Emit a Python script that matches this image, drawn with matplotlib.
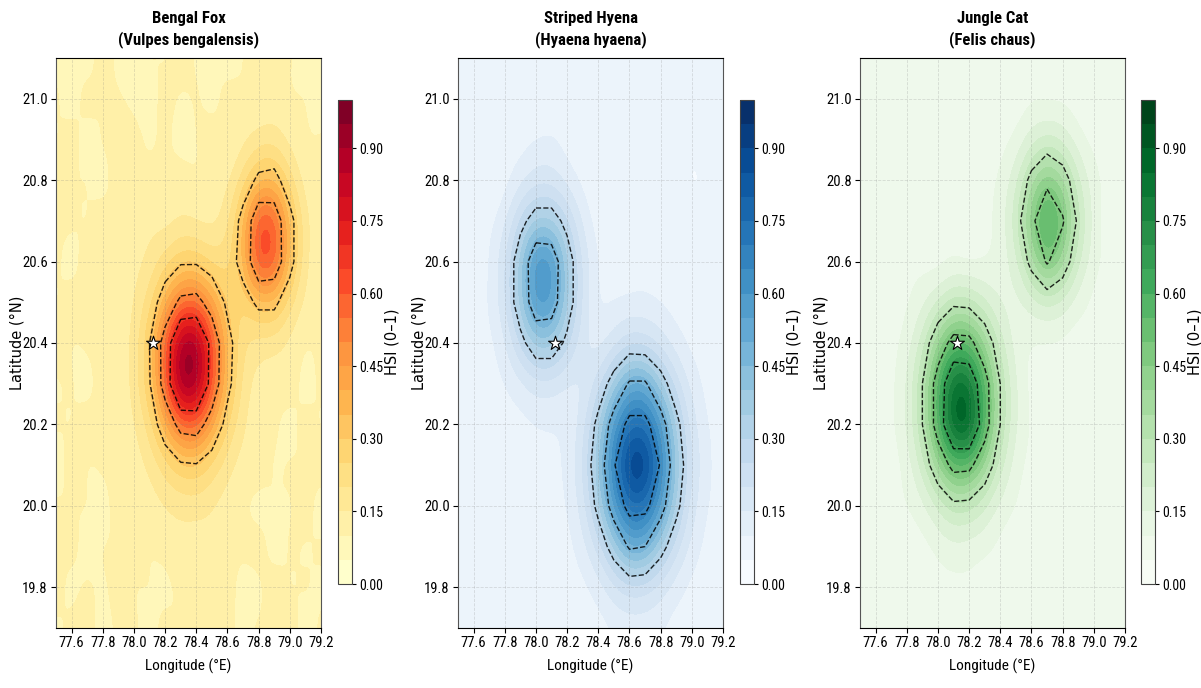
import matplotlib
matplotlib.use('Agg')
import matplotlib.pyplot as plt
from matplotlib.colors import BoundaryNorm
import numpy as np

plt.rcParams['font.family'] = ['Roboto Condensed', 'Liberation Sans', 'DejaVu Sans']

lons = [77.5, 77.6, 77.7, 77.8, 77.9, 78.0, 78.1, 78.2, 78.3, 78.4, 78.5, 78.6, 78.7, 78.8, 78.9, 79.0, 79.1, 79.2]
lats = [21.1, 21.0, 20.9, 20.8, 20.7, 20.6, 20.5, 20.4, 20.3, 20.2, 20.1, 20.0, 19.9, 19.8, 19.7]

# HSI x 100, one row per latitude
fox = [
    [9, 11, 8, 12, 9, 8, 11, 9, 12, 9, 11, 8, 10, 12, 9, 11, 8, 10],
    [11, 8, 12, 9, 11, 9, 8, 12, 9, 11, 8, 12, 10, 9, 12, 9, 11, 8],
    [9, 12, 8, 11, 10, 12, 9, 11, 8, 10, 12, 9, 13, 17, 17, 13, 9, 11],
    [12, 9, 11, 8, 12, 9, 11, 10, 12, 9, 11, 13, 22, 33, 35, 22, 12, 9],
    [10, 11, 9, 12, 9, 11, 14, 12, 15, 14, 12, 18, 35, 64, 62, 35, 16, 11],
    [11, 8, 12, 9, 11, 13, 16, 22, 28, 28, 23, 22, 36, 66, 63, 35, 16, 9],
    [9, 12, 9, 11, 10, 15, 22, 38, 54, 56, 42, 27, 24, 33, 33, 22, 13, 11],
    [12, 9, 11, 10, 12, 16, 30, 58, 92, 94, 64, 35, 20, 17, 17, 13, 9, 11],
    [9, 11, 8, 12, 10, 17, 29, 58, 96, 94, 63, 34, 18, 12, 10, 12, 8, 11],
    [11, 9, 12, 9, 11, 14, 22, 38, 56, 58, 42, 25, 16, 10, 11, 8, 12, 9],
    [8, 12, 9, 11, 10, 12, 16, 22, 28, 29, 23, 17, 12, 12, 9, 11, 9, 12],
    [11, 9, 11, 8, 12, 10, 12, 15, 16, 17, 15, 12, 10, 8, 11, 9, 12, 8],
    [9, 12, 8, 11, 9, 12, 9, 11, 13, 11, 13, 10, 11, 12, 8, 11, 9, 11],
    [12, 8, 11, 9, 12, 9, 11, 8, 11, 9, 11, 12, 8, 9, 12, 9, 11, 9],
    [9, 11, 12, 8, 11, 11, 8, 12, 9, 12, 9, 11, 9, 11, 9, 12, 8, 11],
]
hyena = [
    [5, 8, 4, 7, 5, 8, 6, 4, 7, 5, 8, 4, 6, 5, 8, 4, 7, 5],
    [7, 4, 8, 5, 7, 4, 5, 8, 4, 7, 5, 8, 5, 7, 4, 8, 5, 7],
    [4, 7, 5, 8, 7, 10, 11, 7, 5, 8, 4, 7, 5, 8, 6, 5, 7, 4],
    [7, 5, 4, 7, 13, 17, 17, 13, 8, 5, 7, 4, 8, 5, 7, 4, 5, 7],
    [5, 8, 8, 14, 26, 36, 36, 26, 14, 7, 5, 7, 5, 7, 4, 7, 5, 8],
    [7, 4, 10, 19, 38, 62, 60, 37, 19, 10, 5, 5, 7, 4, 7, 5, 8, 4],
    [5, 7, 10, 19, 38, 60, 58, 37, 19, 8, 10, 11, 11, 10, 7, 7, 5, 7],
    [4, 8, 8, 14, 26, 38, 38, 27, 16, 12, 17, 22, 21, 17, 12, 8, 7, 5],
    [7, 5, 7, 10, 13, 17, 17, 14, 13, 22, 36, 52, 52, 36, 22, 13, 8, 5],
    [5, 7, 4, 7, 8, 10, 10, 10, 17, 34, 58, 75, 75, 58, 34, 17, 10, 7],
    [7, 4, 7, 5, 5, 7, 8, 11, 20, 39, 68, 94, 94, 68, 39, 20, 11, 7],
    [4, 7, 5, 7, 4, 7, 7, 10, 17, 34, 58, 76, 75, 57, 34, 17, 10, 7],
    [7, 5, 8, 4, 7, 5, 5, 8, 13, 22, 36, 52, 50, 35, 22, 13, 8, 5],
    [5, 8, 4, 7, 5, 8, 5, 7, 8, 12, 18, 22, 21, 17, 12, 8, 7, 5],
    [7, 4, 7, 5, 8, 4, 7, 5, 7, 7, 10, 11, 11, 10, 7, 7, 5, 7],
]
cat = [
    [6, 9, 4, 8, 6, 9, 4, 8, 6, 9, 4, 8, 6, 4, 9, 6, 8, 4],
    [8, 4, 9, 6, 4, 8, 6, 9, 8, 4, 6, 9, 8, 9, 6, 4, 8, 6],
    [4, 8, 6, 9, 8, 4, 9, 6, 4, 8, 11, 17, 21, 18, 12, 8, 6, 8],
    [8, 4, 9, 6, 4, 8, 6, 9, 8, 11, 18, 34, 46, 37, 21, 12, 8, 6],
    [6, 9, 4, 8, 6, 9, 8, 4, 8, 12, 23, 46, 64, 52, 27, 13, 6, 8],
    [4, 8, 6, 9, 8, 6, 9, 8, 9, 11, 18, 34, 52, 38, 21, 12, 8, 4],
    [8, 4, 6, 9, 13, 20, 27, 26, 20, 14, 12, 17, 20, 18, 12, 8, 6, 9],
    [6, 9, 8, 12, 22, 40, 56, 55, 39, 22, 12, 9, 9, 8, 6, 9, 8, 6],
    [4, 8, 8, 15, 30, 58, 86, 84, 57, 30, 15, 8, 6, 9, 8, 4, 6, 8],
    [8, 6, 9, 15, 30, 58, 92, 94, 58, 30, 15, 9, 8, 6, 4, 8, 9, 6],
    [6, 9, 6, 12, 22, 39, 55, 54, 39, 22, 12, 8, 9, 4, 8, 6, 6, 9],
    [9, 4, 8, 10, 13, 20, 27, 26, 20, 13, 10, 6, 4, 8, 6, 9, 8, 4],
    [6, 8, 6, 6, 8, 11, 13, 12, 11, 8, 6, 9, 8, 6, 9, 4, 6, 8],
    [8, 4, 9, 6, 4, 8, 8, 9, 6, 9, 4, 8, 6, 9, 6, 8, 4, 6],
    [4, 8, 6, 9, 8, 6, 9, 4, 8, 6, 8, 4, 9, 6, 8, 6, 9, 4],
]

titles = ['Bengal Fox\n(Vulpes bengalensis)', 'Striped Hyena\n(Hyaena hyaena)', 'Jungle Cat\n(Felis chaus)']
grids = [fox, hyena, cat]
cmaps = ['YlOrRd', 'Blues', 'Greens']
fill_levels = [i / 20 for i in range(21)]
line_levels = [0.3, 0.5, 0.7]
cbar_ticks = [0.0, 0.15, 0.30, 0.45, 0.60, 0.75, 0.90]
xticks = [77.6, 77.8, 78.0, 78.2, 78.4, 78.6, 78.8, 79.0, 79.2]
yticks = [19.8, 20.0, 20.2, 20.4, 20.6, 20.8, 21.0]
star_lon = 78.12
star_lat = 20.4

W, H = 1201, 688
fig = plt.figure(figsize=(W / 100, H / 100), dpi=100)

left_px = [56, 458, 860]
cbar_px = [338, 740, 1141]
norm = BoundaryNorm(fill_levels, 256)

for i in range(3):
    ax = fig.add_axes([left_px[i] / W, 1 - 628 / H, 265 / W, 570 / H])
    z = np.array(grids[i]) / 100
    im = ax.imshow(z, extent=[lons[0] - 0.05, lons[-1] + 0.05, lats[-1] - 0.05, lats[0] + 0.05],
                   origin='upper', aspect='auto', cmap=cmaps[i], norm=norm,
                   interpolation='bicubic', interpolation_stage='data')
    ax.contour(lons, lats, z, levels=line_levels, colors='black', linewidths=1.0,
               linestyles='--', alpha=0.85)
    ax.scatter([star_lon], [star_lat], marker='*', s=110, c='white', edgecolors='black',
               linewidths=0.8, zorder=5)
    ax.set_xlim(77.5, 79.2)
    ax.set_ylim(19.7, 21.1)
    ax.set_xticks(xticks)
    ax.set_yticks(yticks)
    ax.set_xticklabels(['%.1f' % v for v in xticks])
    ax.set_yticklabels(['%.1f' % v for v in yticks])
    ax.tick_params(labelsize=10.5, length=3.5, width=0.8, pad=2.5)
    ax.grid(True, linestyle='--', color='gray', linewidth=0.6, alpha=0.25)
    ax.spines['left'].set_color('#555555')
    ax.spines['right'].set_color('#555555')
    ax.set_title(titles[i], fontsize=12, fontweight='bold', pad=10, linespacing=1.35)
    ax.set_xlabel('Longitude (°E)', fontsize=11, labelpad=6)
    ax.set_ylabel('Latitude (°N)', fontsize=10.5, family='DejaVu Sans')
    ax.yaxis.set_label_coords(-0.12, 0.5)

    cax = fig.add_axes([cbar_px[i] / W, 1 - 584 / H, 14 / W, 484 / H])
    cb = fig.colorbar(im, cax=cax, ticks=cbar_ticks)
    cb.ax.set_yticklabels(['%.2f' % v for v in cbar_ticks])
    cb.ax.tick_params(labelsize=10, length=3, width=0.8, which='major', pad=2)
    cb.ax.minorticks_off()
    cb.outline.set_edgecolor('#444444')
    cb.set_label('HSI (0–1)', fontsize=10.5, family='DejaVu Sans')
    cb.ax.yaxis.set_label_coords(3.3, 0.5)

fig.savefig('out.png', dpi=100)
